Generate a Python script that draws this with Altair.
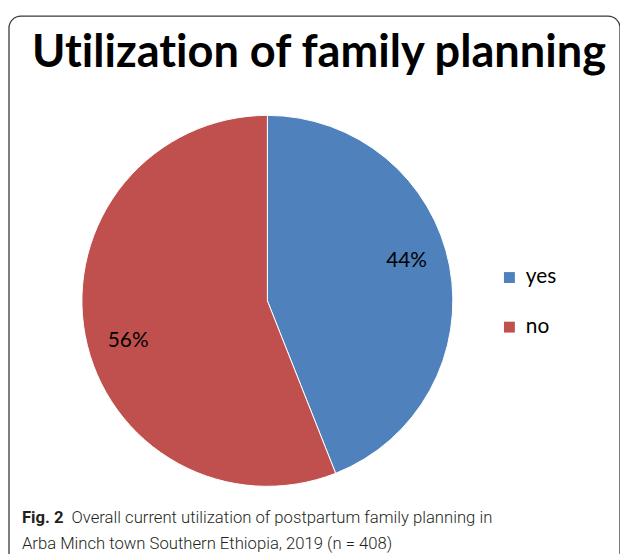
import altair as alt
import pandas as pd

categories = ["yes", "no"]
values = [44, 56]
labels = ["44%", "56%"]
order = [1, 2]
colors = ["#4F81BD", "#C0504D"]

# \u200c prevents the Lato "ti" ligature
title_text = "Utilizat\u200cion of family planning".replace("Uti", "Ut\u200ci")
caption_bold = "Fig. 2"
caption_line1 = "Overall current utilization of postpartum family planning in"
caption_line2 = "Arba Minch town Southern Ethiopia, 2019 (n = 408)"

df = pd.DataFrame({"cat": categories, "value": values, "label": labels, "order": order})

W, H = 617, 546
CX, CY, R = 261.5, 293, 187

base = alt.Chart(df)

border = alt.Chart(pd.DataFrame({"a": [0]})).mark_rect(
    fill="transparent", stroke="#3a3a3a", strokeWidth=1.3, cornerRadius=12
).encode(x=alt.value(1), x2=alt.value(617), y=alt.value(6), y2=alt.value(700))

pie = base.mark_arc(stroke="white", strokeWidth=1).encode(
    theta=alt.Theta("value:Q", stack=True),
    color=alt.Color("cat:N", scale=alt.Scale(domain=categories, range=colors),
                    legend=alt.Legend(title=None)),
    order=alt.Order("order:Q"),
    x=alt.value(CX), y=alt.value(CY), radius=alt.value(R),
)

text = base.mark_text(font="Lato", fontSize=21, color="black", thetaOffset=-0.09).encode(
    theta=alt.Theta("value:Q", stack=True),
    order=alt.Order("order:Q"),
    text="label:N",
    x=alt.value(CX), y=alt.value(CY), radius=alt.value(146),
)

title = alt.Chart(pd.DataFrame({"t": [title_text]})).mark_text(
    font="Lato", fontWeight="bold", fontSize=45.5, color="black", align="center", baseline="alphabetic"
).encode(text="t:N", x=alt.value(313.5), y=alt.value(57))

cap_df = pd.DataFrame({"t": [0]})
cap1b = alt.Chart(cap_df).mark_text(
    text=caption_bold, font="Roboto", fontWeight="bold", fontSize=16.8, color="#231f20", align="left"
).encode(x=alt.value(14), y=alt.value(512))
cap1 = alt.Chart(cap_df).mark_text(
    text=caption_line1, font="Roboto", fontWeight=300, fontSize=16.8, color="#231f20", align="left"
).encode(x=alt.value(64), y=alt.value(512))
cap2 = alt.Chart(cap_df).mark_text(
    text=caption_line2, font="Roboto", fontWeight=300, fontSize=16.8, color="#231f20", align="left"
).encode(x=alt.value(14), y=alt.value(538))

chart = alt.layer(border, pie, text, title, cap1b, cap1, cap2).properties(
    width=W, height=H, padding=0, autosize=alt.AutoSizeParams(type="none")
).configure_view(stroke=None).configure_legend(
    orient="none", legendX=495, legendY=259, symbolType="square", symbolSize=121,
    symbolStrokeWidth=0, labelFontSize=21, labelFont="Lato", labelColor="black",
    rowPadding=28, labelOffset=6, padding=0
)

chart.save("out.html", embed_options={"renderer": "svg", "actions": False})
